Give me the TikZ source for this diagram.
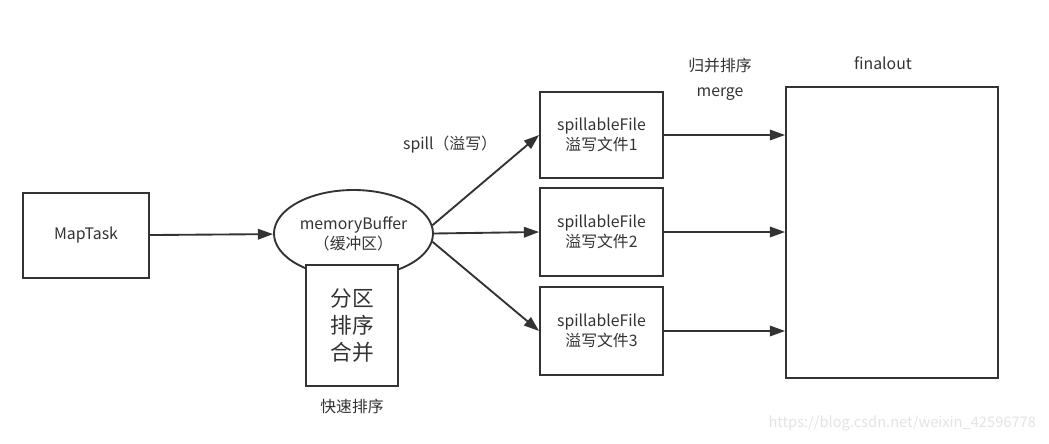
\documentclass[tikz,border=0pt]{standalone}
\usepackage{fontspec}
\setmainfont{Noto Sans CJK SC}
\usetikzlibrary{arrows.meta,positioning,calc,shapes.geometric}
\definecolor{linegray}{HTML}{333333}

\begin{document}
\begin{tikzpicture}[x=0.03cm,y=-0.03cm,
    box/.style={draw=linegray,line width=1.6pt,fill=white,align=center,inner sep=0pt,
        text=linegray,font=\fontsize{13.5}{17}\selectfont},
    flow/.style={draw=linegray,line width=1.6pt,-{Triangle[length=13pt,width=9pt]}},
    lbl/.style={text=linegray,align=center,font=\fontsize{13.5}{17}\selectfont}]
    \useasboundingbox (0,0) rectangle (1049,443);

    % map side
    \node [box,minimum width=3.78cm,minimum height=2.55cm] (map) at (86,235.5) {MapTask};
    \node [box,ellipse,minimum width=4.77cm,minimum height=2.61cm] (buf) at (353.5,233.5)
        {memoryBuffer\\（缓冲区）};
    \node [box,minimum width=2.76cm,minimum height=3.63cm,
        font=\fontsize{18.5}{23}\selectfont] (sort) at (352,325.5) {分区\\排序\\合并};
    \node [lbl] (quick) at (352,406) {快速排序};

    % spill files
    \node [box,minimum width=3.69cm,minimum height=2.58cm] (s1) at (601.5,135) {spillableFile\\溢写文件1};
    \node [box,minimum width=3.69cm,minimum height=2.64cm] (s2) at (601.5,232) {spillableFile\\溢写文件2};
    \node [box,minimum width=3.69cm,minimum height=2.64cm] (s3) at (601.5,331) {spillableFile\\溢写文件3};
    \node [lbl] (spill) at (450,145) {spill（溢写）};

    % merged output
    \node [box,minimum width=6.36cm,minimum height=8.73cm] (final) at (892,232.5) {};
    \node [lbl] (finallbl) at (883,63) {finalout};
    \node [lbl,font=\fontsize{13.5}{21}\selectfont] (merge) at (720,79) {归并排序\\merge};

    \node [anchor=east,text=gray!22,font=\fontsize{12.5}{14}\selectfont] (mark) at (1040,423)
        {https://blog.csdn.net/weixin\_42596778};

    % connectors
    \draw [flow] (map) -- (buf);
    \draw [flow] (buf.6) -- (s1.west);
    \draw [flow] (buf.east) -- (s2.west);
    \draw [flow] (buf.-6) -- (s3.west);
    \foreach \s in {s1,s2,s3}
        \draw [flow] (\s.east) -- (\s.east -| final.west);
\end{tikzpicture}
\end{document}
